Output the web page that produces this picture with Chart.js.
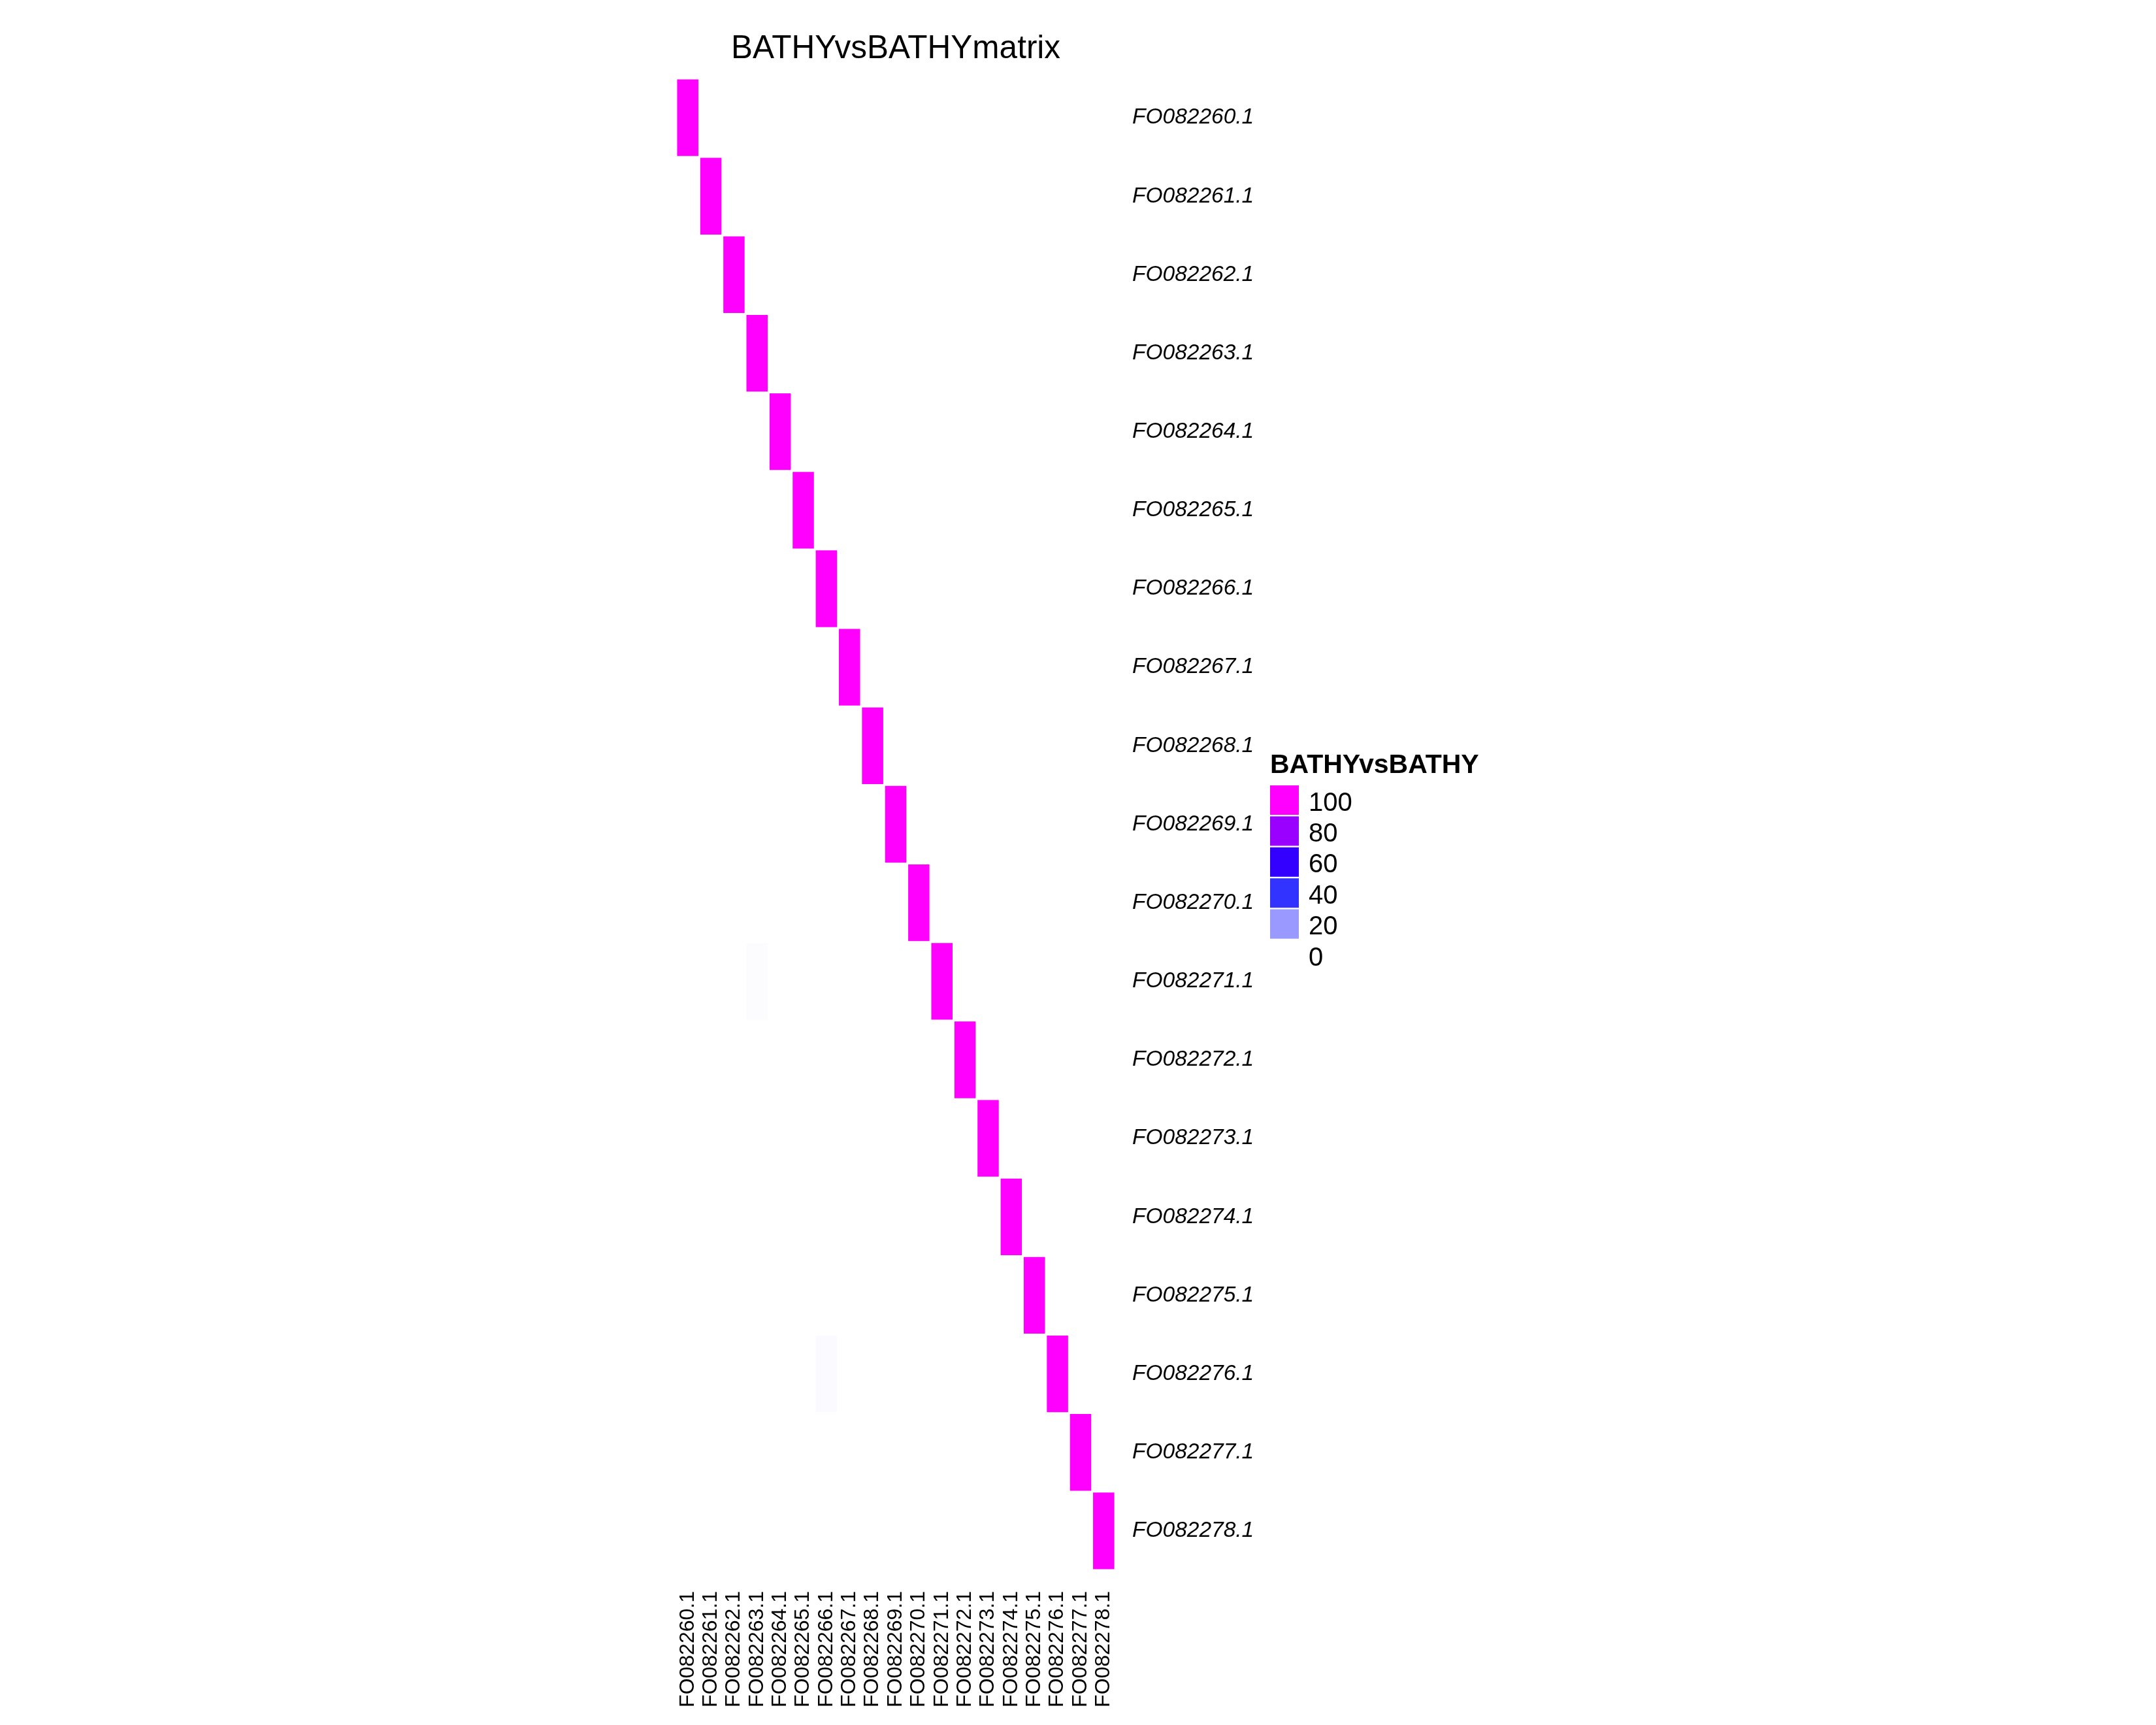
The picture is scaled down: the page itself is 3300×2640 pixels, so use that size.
<!DOCTYPE html>
<html>
<head>
<meta charset="utf-8">
<script src="https://cdn.jsdelivr.net/npm/chart.js@4.4.1/dist/chart.umd.min.js"></script>
<style>
  html, body { margin: 0; padding: 0; background: #ffffff; }
  #wrap { width: 3300px; height: 2640px; }
</style>
</head>
<body>
<div id="wrap"><canvas id="c" width="3300" height="2640"></canvas></div>
<script>
// ---- data ----
const chartTitle = 'BATHYvsBATHYmatrix';
const legendTitle = 'BATHYvsBATHY';
const colLabels = ['FO082260.1','FO082261.1','FO082262.1','FO082263.1','FO082264.1','FO082265.1','FO082266.1','FO082267.1','FO082268.1','FO082269.1','FO082270.1','FO082271.1','FO082272.1','FO082273.1','FO082274.1','FO082275.1','FO082276.1','FO082277.1','FO082278.1'];
const rowLabels = ['FO082260.1','FO082261.1','FO082262.1','FO082263.1','FO082264.1','FO082265.1','FO082266.1','FO082267.1','FO082268.1','FO082269.1','FO082270.1','FO082271.1','FO082272.1','FO082273.1','FO082274.1','FO082275.1','FO082276.1','FO082277.1','FO082278.1'];
const legendBreaks = [100, 80, 60, 40, 20, 0];

// one array per row (values for columns FO082260.1 ... FO082278.1)
const row260 = [100,0,0,0,0,0,0,0,0,0,0,0,0,0,0,0,0,0,0];
const row261 = [0,100,0,0,0,0,0,0,0,0,0,0,0,0,0,0,0,0,0];
const row262 = [0,0,100,0,0,0,0,0,0,0,0,0,0,0,0,0,0,0,0];
const row263 = [0,0,0,100,0,0,0,0,0,0,0,0,0,0,0,0,0,0,0];
const row264 = [0,0,0,0,100,0,0,0,0,0,0,0,0,0,0,0,0,0,0];
const row265 = [0,0,0,0,0,100,0,0,0,0,0,0,0,0,0,0,0,0,0];
const row266 = [0,0,0,0,0,0,100,0,0,0,0,0,0,0,0,0,0,0,0];
const row267 = [0,0,0,0,0,0,0,100,0,0,0,0,0,0,0,0,0,0,0];
const row268 = [0,0,0,0,0,0,0,0,100,0,0,0,0,0,0,0,0,0,0];
const row269 = [0,0,0,0,0,0,0,0,0,100,0,0,0,0,0,0,0,0,0];
const row270 = [0,0,0,0,0,0,0,0,0,0,100,0,0,0,0,0,0,0,0];
const row271 = [0,0,0,0.5,0,0,0,0,0,0,0,100,0,0,0,0,0,0,0];
const row272 = [0,0,0,0,0,0,0,0,0,0,0,0,100,0,0,0,0,0,0];
const row273 = [0,0,0,0,0,0,0,0,0,0,0,0,0,100,0,0,0,0,0];
const row274 = [0,0,0,0,0,0,0,0,0,0,0,0,0,0,100,0,0,0,0];
const row275 = [0,0,0,0,0,0,0,0,0,0,0,0,0,0,0,100,0,0,0];
const row276 = [0,0,0,0,0,0,0.8,0,0,0,0,0,0,0,0,0,100,0,0];
const row277 = [0,0,0,0,0,0,0,0,0,0,0,0,0,0,0,0,0,100,0];
const row278 = [0,0,0,0,0,0,0,0,0,0,0,0,0,0,0,0,0,0,100];
const matrixRows = [row260,row261,row262,row263,row264,row265,row266,row267,row268,row269,row270,row271,row272,row273,row274,row275,row276,row277,row278];

// ---- colour scale: white (0) -> blue (50) -> magenta (100) ----
function colorFor(v) {
  let r, g, b = 255;
  if (v <= 50) {
    const f = v / 50;
    r = Math.round(255 * (1 - f)); g = r;
  } else {
    const f = (v - 50) / 50;
    r = Math.round(255 * f); g = 0;
  }
  return 'rgb(' + r + ',' + g + ',' + b + ')';
}

const FONT = "'Liberation Sans', Arial, Helvetica, sans-serif";

const datasets = rowLabels.map((name, r) => ({
  label: name,
  data: matrixRows[r].map(() => [r, r + 1]),
  backgroundColor: (ctx) => colorFor(matrixRows[r][ctx.dataIndex]),
  borderColor: '#ffffff',
  borderWidth: 1.75,
  borderSkipped: false,
  grouped: false,
  barPercentage: 1,
  categoryPercentage: 1
}));

const decorPlugin = {
  id: 'decor',
  afterDraw(chart) {
    const ctx = chart.ctx;
    const ca = chart.chartArea;
    ctx.save();
    // title centred over the heatmap
    ctx.fillStyle = '#000';
    ctx.font = '49.5px ' + FONT;
    ctx.textAlign = 'center';
    ctx.textBaseline = 'alphabetic';
    ctx.fillText(chartTitle, (ca.left + ca.right) / 2, 89);

    // colour legend
    const lx = ca.right + 237;
    ctx.textAlign = 'left';
    ctx.font = 'bold 41px ' + FONT;
    ctx.fillText(legendTitle, lx, 1183);
    const top0 = 1202, step = 47.4, sw = 44, sh = 45;
    ctx.font = '40px ' + FONT;
    legendBreaks.forEach((v, i) => {
      const y = top0 + i * step;
      ctx.fillStyle = colorFor(v);
      ctx.fillRect(lx, y, sw, sh);
      ctx.fillStyle = '#000';
      ctx.textBaseline = 'middle';
      ctx.fillText(String(v), lx + 59, y + sh / 2 + 5);
    });
    ctx.restore();
  }
};

new Chart(document.getElementById('c'), {
  type: 'bar',
  data: { labels: colLabels, datasets },
  plugins: [decorPlugin],
  options: {
    responsive: false,
    animation: false,
    devicePixelRatio: 1,
    layout: { padding: { left: 1035, top: 120, right: 1363, bottom: 0 } },
    plugins: { legend: { display: false }, title: { display: false }, tooltip: { enabled: false } },
    scales: {
      x: {
        type: 'category',
        position: 'bottom',
        offset: true,
        grid: { display: false, drawTicks: false },
        border: { display: false },
        ticks: {
          autoSkip: false, minRotation: 90, maxRotation: 90, padding: 32,
          color: '#000', font: { family: FONT, size: 32 }
        },
        afterFit: (s) => { s.height = 237; }
      },
      y: {
        type: 'linear',
        position: 'right',
        reverse: true,
        min: 0,
        max: rowLabels.length,
        grid: { display: false, drawTicks: false },
        border: { display: false },
        afterBuildTicks: (axis) => { axis.ticks = rowLabels.map((_, i) => ({ value: i + 0.5 })); },
        ticks: {
          autoSkip: false, padding: 26,
          color: '#000', font: { family: FONT, size: 33.5, style: 'italic' },
          callback: (value, index) => rowLabels[index]
        },
        afterFit: (s) => { s.width = 230; }
      }
    }
  }
});
</script>
</body>
</html>
